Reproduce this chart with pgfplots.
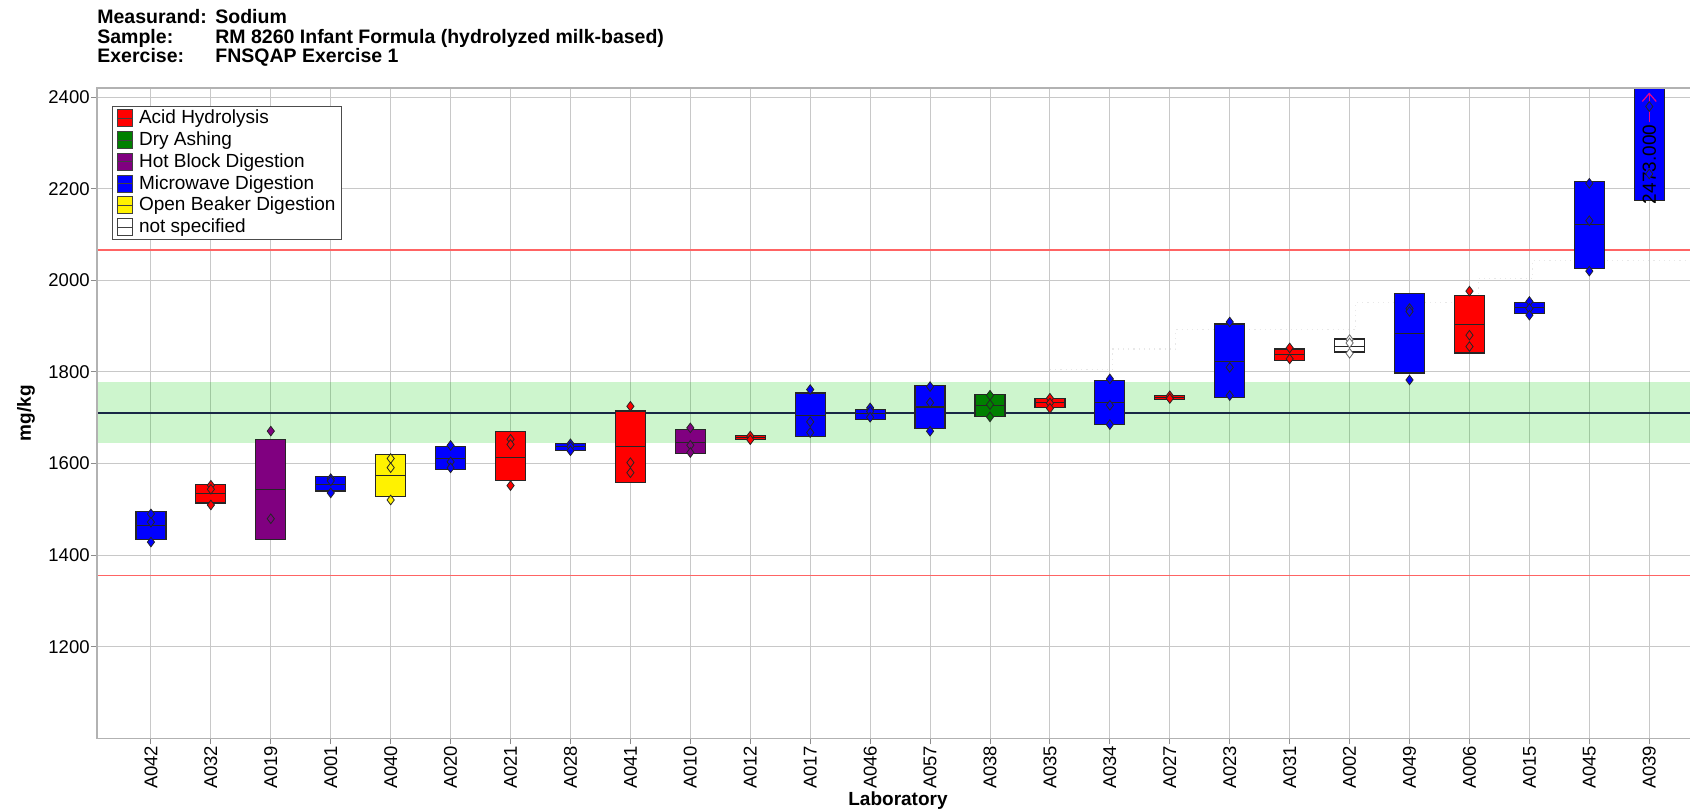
\documentclass[border=0pt]{standalone}
\usepackage{pgfplots}
\pgfplotsset{compat=1.18}
\usepackage{fontspec}
\setmainfont{Liberation Sans}
\usetikzlibrary{arrows.meta}

\definecolor{bandgreen}{RGB}{0,204,0}
\definecolor{limred}{RGB}{255,100,100}
\definecolor{navyline}{RGB}{25,40,70}
\definecolor{gridgray}{RGB}{200,200,200}
\definecolor{hbpurple}{RGB}{128,0,128}
\definecolor{dagreen}{RGB}{0,128,0}

\newcommand\labbox[5]{%
  \pgfmathsetmacro\xa{#1-0.25}%
  \pgfmathsetmacro\xb{#1+0.25}%
  \edef\dobox{\noexpand\addplot[forget plot, draw=black!85, line width=0.6pt, fill=#5] coordinates {(\xa,#2) (\xb,#2) (\xb,#4) (\xa,#4)} -- cycle;}%
  \dobox
  \edef\domed{\noexpand\addplot[forget plot, draw=black!85, line width=0.6pt] coordinates {(\xa,#3) (\xb,#3)};}%
  \domed}

\newcommand\legbox[1]{\addlegendimage{legend image code/.code={%
  \draw[fill=#1, draw=black!75, line width=0.5pt] (0pt,-4.25pt) rectangle (7.5pt,4.25pt);
  \draw[black!75, line width=0.5pt] (0pt,0pt) -- (7.5pt,0pt);}}}

\begin{document}
\begin{tikzpicture}
\useasboundingbox (-48.5pt,-35.35pt) rectangle (796.5pt,369.15pt);
\begin{axis}[
  scale only axis,
  width=796.5pt, height=325.15pt,
  at={(0pt,0pt)}, anchor=south west,
  xmin=-0.9, xmax=25.68, ymin=1000, ymax=2420,
  xtick={0,...,25},
  xticklabels={A042,A032,A019,A001,A040,A020,A021,A028,A041,A010,A012,A017,A046,A057,A038,A035,A034,A027,A023,A031,A002,A049,A006,A015,A045,A039},
  ytick={1200,1400,...,2400},
  scaled y ticks=false,
  /pgf/number format/1000 sep={},
  /pgf/number format/assume math mode=true,
  grid=major,
  grid style={draw=gridgray, line width=0.5pt},
  tick align=outside,
  major tick length=3pt,
  tick style={draw=black!45, line width=0.5pt},
  xtick pos=bottom, ytick pos=left,
  axis line style={draw=none},
  clip=false,
  xticklabel style={rotate=90, anchor=east, font=\fontsize{9.25}{11}\selectfont, inner sep=0.5pt},
  yticklabel style={font=\fontsize{9.25}{11}\selectfont, inner sep=0.5pt},
  xlabel={Laboratory},
  ylabel={mg/kg},
  every axis x label/.style={at={(axis description cs:0.5028,-0.103)}, anchor=base, font=\fontsize{9.5}{11}\selectfont\bfseries},
  every axis y label/.style={at={(axis description cs:-0.0445,0.5)}, rotate=90, anchor=center, font=\fontsize{9.5}{11}\selectfont\bfseries},
  legend cell align=left,
  legend style={at={(axis description cs:0.0095,0.9728)}, anchor=north west,
    draw=black!70, line width=0.5pt, fill=white,
    font=\fontsize{9.5}{11}\selectfont,
    inner xsep=2.4pt, inner ysep=1.3pt, row sep=1.3pt,
    nodes={inner sep=0.6pt},
    /tikz/every odd column/.append style={column sep=2.2pt}},
]
% acceptance band and limits
\addplot[forget plot, draw=none, fill=bandgreen, fill opacity=0.196] coordinates {(-0.9,1644) (25.68,1644) (25.68,1778) (-0.9,1778)} -- cycle;
\addplot[forget plot, limred, line width=0.7pt] coordinates {(-0.9,1356) (25.68,1356)};
\addplot[forget plot, limred, line width=0.7pt] coordinates {(-0.9,2066) (25.68,2066)};
\addplot[forget plot, navyline, line width=1pt] coordinates {(-0.9,1711) (25.68,1711)};
\addplot[forget plot, const plot, draw=black!9, dotted, line width=0.6pt] coordinates {(15,1805) (16.05,1850) (17.1,1892) (20.1,1952) (22.15,2004) (23.05,2043) (25.68,2043)};

% boxes: idx, low, median, high, colour
\labbox{0}{1434.3}{1465}{1494.9}{blue}
\labbox{1}{1513.9}{1534.3}{1554}{red}
\labbox{2}{1434.3}{1543.8}{1653.3}{hbpurple}
\labbox{3}{1540}{1554}{1571.5}{blue}
\labbox{4}{1527.7}{1573.7}{1619.7}{yellow}
\labbox{5}{1587.6}{1611}{1637.2}{blue}
\labbox{6}{1562.8}{1613}{1669.4}{red}
\labbox{7}{1628.4}{1637}{1644.4}{blue}
\labbox{8}{1558}{1637}{1714.9}{red}
\labbox{9}{1621.8}{1645.8}{1674.9}{hbpurple}
\labbox{10}{1652.4}{1657.5}{1661.8}{red}
\labbox{11}{1658.9}{1705.5}{1754.2}{blue}
\labbox{12}{1696.7}{1709}{1718.5}{blue}
\labbox{13}{1677}{1723.6}{1770.9}{blue}
\labbox{14}{1702.5}{1727.3}{1750.5}{dagreen}
\labbox{15}{1722.9}{1732.4}{1741.8}{red}
\labbox{16}{1685}{1733.8}{1781.8}{blue}
\labbox{17}{1739.6}{1744}{1748.4}{red}
\labbox{18}{1744.7}{1823.3}{1904.7}{blue}
\labbox{19}{1825.5}{1837.8}{1850.2}{red}
\labbox{20}{1843.6}{1856}{1872}{white}
\labbox{21}{1797.8}{1883.8}{1971.3}{blue}
\labbox{22}{1841.5}{1903.5}{1966.9}{red}
\labbox{23}{1927.5}{1940}{1951.6}{blue}
\labbox{24}{2026.7}{2121.5}{2215.5}{blue}
\addplot[forget plot, draw=black!85, line width=0.6pt, fill=blue] coordinates {(24.75,2174) (25.25,2174) (25.25,2420) (24.75,2420)} -- cycle;

% individual results
\addplot[forget plot, only marks, mark=diamond*, mark size=2.4pt, mark options={fill=blue, draw=black!85, line width=0.4pt}] coordinates {
(0,1490)(0,1472)(0,1428.5)(3,1567)(3,1562)(3,1535.8)(5,1639.4)(5,1603.7)(5,1590.5)
(7,1643)(7,1637)(7,1628)(11,1761.5)(11,1691)(11,1667.6)(12,1721.5)(12,1714)(12,1701)
(13,1768)(13,1733)(13,1670.5)(16,1784.7)(16,1727.3)(16,1685)(18,1909)(18,1810)(18,1748.4)
(21,1938.5)(21,1932)(21,1782.5)(23,1953.8)(23,1938.5)(23,1924)(24,2211.9)(24,2130.2)(24,2020.1)
(25,2379.6)(25,2232.3)};
\addplot[forget plot, only marks, mark=diamond*, mark size=2.4pt, mark options={fill=red, draw=black!85, line width=0.4pt}] coordinates {
(1,1552.5)(1,1543.8)(1,1509.5)(6,1653)(6,1641.6)(6,1551.8)(8,1725)(8,1602)(8,1580)
(10,1660)(10,1652)(15,1742.5)(15,1732)(15,1720.7)(17,1748)(17,1742)(19,1852.4)(19,1828.4)
(22,1976.4)(22,1880.2)(22,1855.4)};
\addplot[forget plot, only marks, mark=diamond*, mark size=2.4pt, mark options={fill=hbpurple, draw=black!85, line width=0.4pt}] coordinates {
(2,1670.8)(2,1479.5)(9,1677.8)(9,1640)(9,1624)};
\addplot[forget plot, only marks, mark=diamond*, mark size=2.4pt, mark options={fill=yellow, draw=black!85, line width=0.4pt}] coordinates {
(4,1611)(4,1591)(4,1520.4)};
\addplot[forget plot, only marks, mark=diamond*, mark size=2.4pt, mark options={fill=dagreen, draw=black!85, line width=0.4pt}] coordinates {
(14,1749)(14,1728.7)(14,1701.8)};
\addplot[forget plot, only marks, mark=diamond*, mark size=2.4pt, mark options={fill=white, draw=black!60, line width=0.4pt}] coordinates {
(20,1870.5)(20,1863.3)(20,1840.7)};

% off-scale indicator for A039
\addplot[forget plot, magenta, line width=0.6pt, -{Straight Barb[length=4pt,width=7pt]}] coordinates {(25,2345) (25,2410)};
\node[rotate=90, font=\fontsize{9.5}{11}\selectfont, inner sep=0pt] at (axis cs:25,2253) {2473.000};

% frame (left, top, bottom)
\draw[black!30, line width=0.75pt] (rel axis cs:1,1) -- (rel axis cs:0,1) -- (rel axis cs:0,0) -- (rel axis cs:1,0);

% legend
\legbox{red}\addlegendentry{Acid Hydrolysis}
\legbox{dagreen}\addlegendentry{Dry Ashing}
\legbox{hbpurple}\addlegendentry{Hot Block Digestion}
\legbox{blue}\addlegendentry{Microwave Digestion}
\legbox{yellow}\addlegendentry{Open Beaker Digestion}
\legbox{white}\addlegendentry{not specified}
\end{axis}

% header
\begin{scope}[every node/.style={anchor=base west, inner sep=0pt, font=\fontsize{9.75}{11}\selectfont\bfseries}]
\node at (0pt,357.15pt) {Measurand:};
\node at (59pt,357.15pt) {Sodium};
\node at (0pt,347.5pt) {Sample:};
\node at (59pt,347.5pt) {RM 8260 Infant Formula (hydrolyzed milk-based)};
\node at (0pt,337.8pt) {Exercise:};
\node at (59pt,337.8pt) {FNSQAP Exercise 1};
\end{scope}
\end{tikzpicture}
\end{document}
